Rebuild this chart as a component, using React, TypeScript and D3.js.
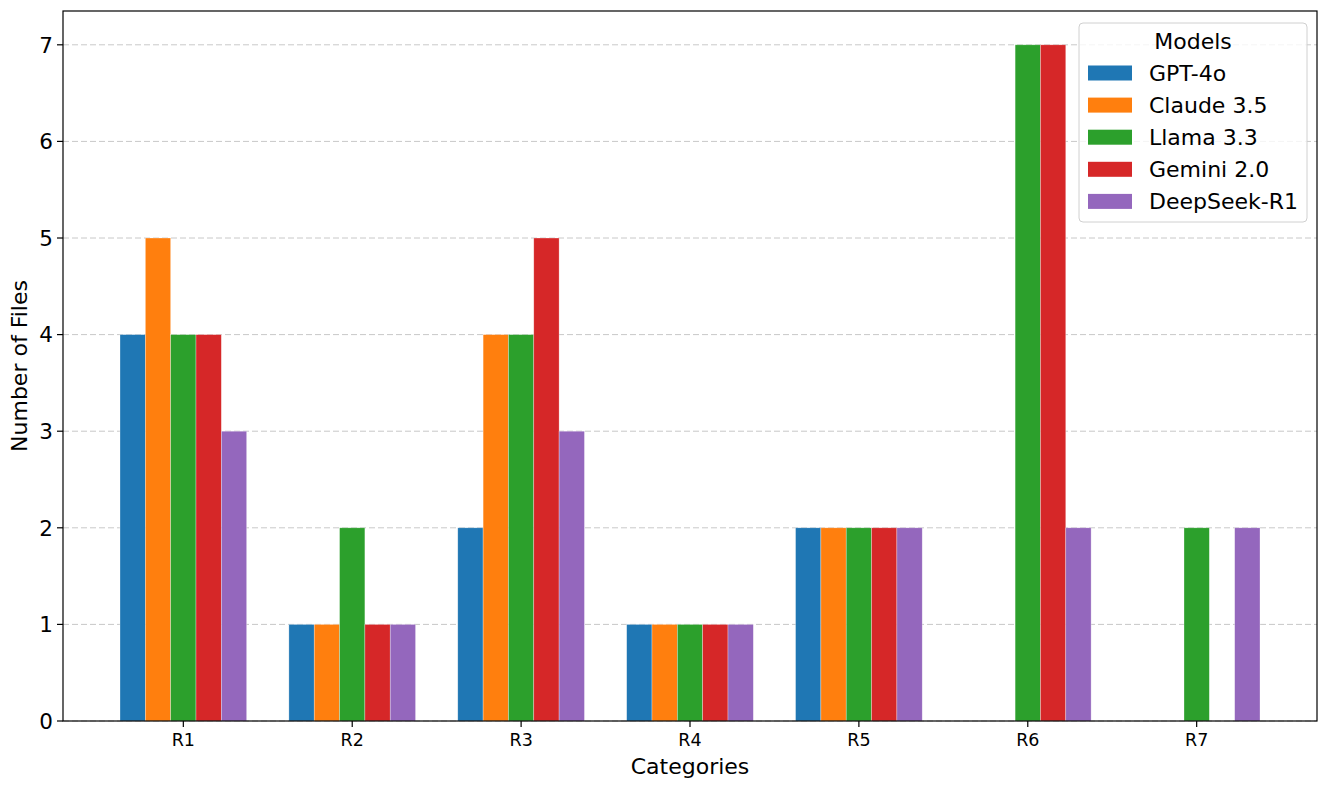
import * as d3 from "d3";

const WIDTH = 1329;
const HEIGHT = 789;
const MARGIN = { top: 11, right: 12, bottom: 68, left: 63 };

const categories = ["R1", "R2", "R3", "R4", "R5", "R6", "R7"];
const models = ["GPT-4o", "Claude 3.5", "Llama 3.3", "Gemini 2.0", "DeepSeek-R1"];
const colors = ["#1f77b4", "#ff7f0e", "#2ca02c", "#d62728", "#9467bd"];

const gpt4o = [4, 1, 2, 1, 2, 0, 0];
const claude35 = [5, 1, 4, 1, 2, 0, 0];
const llama33 = [4, 2, 4, 1, 2, 7, 2];
const gemini20 = [4, 1, 5, 1, 2, 7, 0];
const deepseekR1 = [3, 1, 3, 1, 2, 2, 2];

const series = [gpt4o, claude35, llama33, gemini20, deepseekR1];
const yTicks = [0, 1, 2, 3, 4, 5, 6, 7];

const BAR_W = 0.15;
const FONT = "DejaVu Sans, sans-serif";

export default function App() {
  const innerW = WIDTH - MARGIN.left - MARGIN.right;
  const innerH = HEIGHT - MARGIN.top - MARGIN.bottom;

  // matplotlib-style limits: bar extent plus 5% padding
  const lo = -2 * BAR_W - BAR_W / 2;
  const hi = categories.length - 1 + 2 * BAR_W + BAR_W / 2;
  const pad = (hi - lo) * 0.05;
  const x = d3.scaleLinear().domain([lo - pad, hi + pad]).range([0, innerW]);
  const yMax = d3.max(series.flat()) ?? 1;
  const y = d3.scaleLinear().domain([0, yMax * 1.05]).range([innerH, 0]);

  const bw = x(BAR_W) - x(0);

  return (
    <svg
      width={WIDTH}
      height={HEIGHT}
      style={{ position: "absolute", left: 0, top: 0, background: "#fff" }}
      fontFamily={FONT}
    >
      <g transform={`translate(${MARGIN.left},${MARGIN.top})`}>
        {/* grid */}
        {yTicks.map((t) => (
          <line
            key={`g${t}`}
            x1={0}
            x2={innerW}
            y1={y(t)}
            y2={y(t)}
            stroke="#b0b0b0"
            strokeOpacity={0.7}
            strokeWidth={1}
            strokeDasharray="6,3"
          />
        ))}

        {/* bars */}
        {series.map((vals, si) =>
          vals.map((v, ci) => {
            const cx = ci + (si - 2) * BAR_W;
            if (v <= 0) return null;
            return (
              <rect
                key={`b${si}-${ci}`}
                x={x(cx - BAR_W / 2)}
                y={y(v)}
                width={bw}
                height={innerH - y(v)}
                fill={colors[si]}
                stroke="#fff"
                strokeOpacity={0.5}
                strokeWidth={0.6}
              />
            );
          })
        )}

        {/* spines */}
        <rect
          x={0}
          y={0}
          width={innerW}
          height={innerH}
          fill="none"
          stroke="#000"
          strokeWidth={1.2}
        />

        {/* y axis */}
        {yTicks.map((t) => (
          <g key={`y${t}`} transform={`translate(0,${y(t)})`}>
            <line x1={-6} x2={0} stroke="#000" strokeWidth={1.2} />
            <text
              x={-10}
              dy="0.36em"
              textAnchor="end"
              fontSize={21.5}
              fill="#000"
            >
              {t}
            </text>
          </g>
        ))}

        {/* x axis */}
        {categories.map((c, i) => (
          <g key={`x${c}`} transform={`translate(${x(i)},${innerH})`}>
            <line y1={0} y2={6} stroke="#000" strokeWidth={1.2} />
            <text y={25} textAnchor="middle" fontSize={17.5} fill="#000">
              {c}
            </text>
          </g>
        ))}

        <text
          x={innerW / 2}
          y={innerH + 53}
          textAnchor="middle"
          fontSize={22}
          fill="#000"
        >
          Categories
        </text>
        <text
          transform={`translate(${27 - MARGIN.left},${innerH / 2}) rotate(-90)`}
          textAnchor="middle"
          fontSize={22}
          fill="#000"
        >
          Number of Files
        </text>

        {/* legend */}
        <g transform={`translate(${1079 - MARGIN.left},${23 - MARGIN.top})`}>
          <rect
            width={228}
            height={199}
            rx={4}
            fill="#fff"
            fillOpacity={0.8}
            stroke="#d0d0d0"
            strokeWidth={1}
          />
          <text x={114} y={26} textAnchor="middle" fontSize={22} fill="#000">
            Models
          </text>
          {models.map((m, i) => (
            <g key={m} transform={`translate(0,${50 + i * 32.1})`}>
              <rect x={9} y={-7.5} width={44} height={15} fill={colors[i]} />
              <text x={70} dy="0.36em" fontSize={22} fill="#000">
                {m}
              </text>
            </g>
          ))}
        </g>
      </g>
    </svg>
  );
}
